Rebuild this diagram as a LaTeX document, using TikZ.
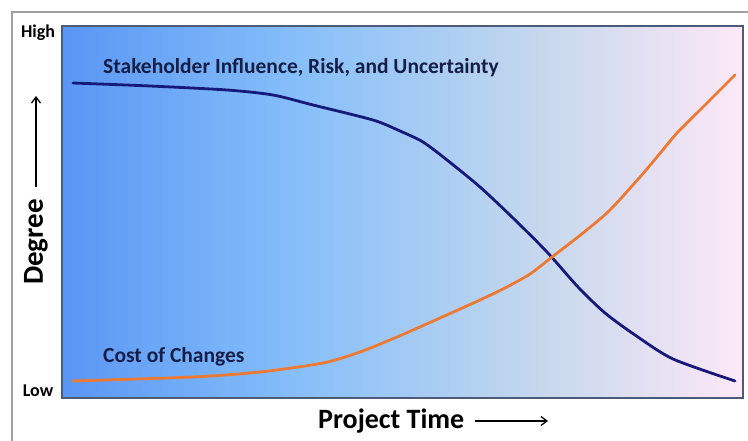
\documentclass[tikz,border=0pt]{standalone}
\usepackage{fontspec}
\setmainfont{Carlito}
\usetikzlibrary{arrows.meta}
\definecolor{navyline}{HTML}{16187A}
\definecolor{orangeline}{HTML}{EC7A33}
\definecolor{framegray}{HTML}{A0A0A0}
\definecolor{plotframe}{HTML}{4D5B78}
\pgfdeclarehorizontalshading{bgshade}{100bp}{%
  rgb(0bp)=(0.35,0.59,0.96);
  rgb(25bp)=(0.35,0.59,0.96);
  rgb(42.5bp)=(0.53,0.75,0.98);
  rgb(53.5bp)=(0.68,0.81,0.95);
  rgb(61bp)=(0.79,0.85,0.93);
  rgb(68bp)=(0.89,0.88,0.95);
  rgb(75bp)=(0.99,0.91,0.97);
  rgb(100bp)=(0.99,0.91,0.97)}
\tikzset{
  lbl/.style={font=\bfseries, text=black, inner sep=0pt},
  curvelbl/.style={font=\bfseries\fontsize{21.5}{25}\selectfont, text={rgb,255:red,20;green,30;blue,70}, inner sep=0pt, anchor=west},
  curve/.style={line width=2.8pt, line cap=round, line join=round},
  axisarrow/.style={-{Straight Barb[length=6pt,width=9pt,line width=1.3pt]}, line width=1.5pt}
}
\begin{document}
\begin{tikzpicture}[x=1pt,y=-1pt]
\useasboundingbox (0,0) rectangle (748,441);
\fill[white] (0,0) rectangle (748,441);
% outer frame
\draw[framegray, line width=1.2pt] (12,441) -- (12,12) -- (748,12);
% plot area
\shade[shading=bgshade] (62,26) rectangle (743,398);
\draw[plotframe, line width=1.5pt] (62,26) rectangle (743,398);
% curves
\draw[curve, navyline] plot[smooth, tension=0.45] coordinates {
  (73,83) (150,86) (227,90) (273,95) (313,105) (373,120) (400,131) (423,142)
  (447,160) (480,187) (513,218) (547,252) (578,287) (605,313) (635,335) (673,359) (735,381)};
\draw[curve, orangeline] plot[smooth, tension=0.45] coordinates {
  (73,381) (193,377) (260,372) (323,363) (360,352) (397,337) (440,318)
  (480,300) (505,288) (530,274) (552,257) (583,233) (610,210) (640,177) (657,157) (677,133) (700,110) (735,75)};
% labels
\node[curvelbl] (stake) at (103,68) {Stakeholder Influence, Risk, and Uncertainty};
\node[curvelbl] (cost) at (103,357) {Cost of Changes};
\node[lbl, font=\bfseries\fontsize{18}{20}\selectfont] (high) at (38,33) {High};
\node[lbl, font=\bfseries\fontsize{18}{20}\selectfont] (low) at (38,391) {Low};
\node[lbl, font=\bfseries\fontsize{29}{32}\selectfont, rotate=90] (degree) at (36,242) {Degree};
\coordinate (degtip) at (36,96);
\draw[axisarrow] ([yshift=12pt]degree.east) -- (degtip);
\node[lbl, font=\bfseries\fontsize{28}{32}\selectfont, anchor=west] (ptime) at (318,421) {Project Time};
\coordinate (timetip) at (548,421);
\draw[axisarrow] ([xshift=10pt]ptime.east) -- (timetip);
\end{tikzpicture}
\end{document}
